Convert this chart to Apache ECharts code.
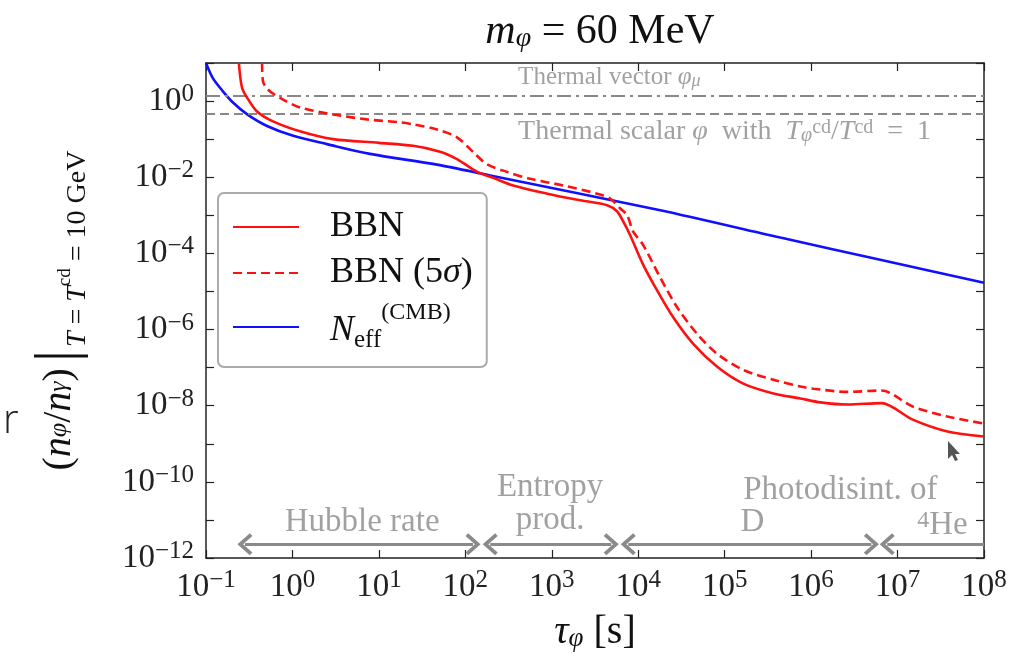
<!DOCTYPE html>
<html>
<head>
<meta charset="utf-8">
<script src="https://cdn.jsdelivr.net/npm/echarts@6/dist/echarts.min.js"></script>
<style>html,body{margin:0;padding:0;background:#fff;}#c{width:1020px;height:657px;}</style>
</head>
<body>
<div id="c"></div>
<script>
// ---- data (tau [s], n_phi/n_gamma) ----
const bbn = [[0.24,10],[0.261,2.24],[0.299,1.23],[0.389,0.533],[0.596,0.293],[1.22,0.161],[2.95,0.1],[10,0.08],[24.9,0.067],[51,0.047],[80,0.030],[137,0.0138],[209,0.0097],[357,0.0061],[885,0.0037],[2140,0.00248],[4370,0.00184],[5710,0.00126],[6700,0.00069],[8070,3.0e-4],[11430,5.0e-5],[16600,1.05e-5],[25400,2.1e-6],[43300,4.2e-7],[82000,1.05e-7],[164000,3.8e-8],[366000,2.1e-8],[750000,1.55e-8],[1.28e6,1.22e-8],[2.63e6,1.07e-8],[6.5e6,1.17e-8],[1.5e7,4.3e-9],[3.77e7,2.1e-9],[1e8,1.55e-9]];
const bbn5 = [[0.445,10],[0.457,3.27],[0.523,1.99],[0.718,1.21],[1.22,0.68],[2.95,0.446],[7.3,0.33],[17.6,0.276],[24.9,0.245],[47,0.18],[80,0.112],[123,0.046],[178,0.022],[305,0.0138],[562,0.0091],[1350,0.0061],[3350,0.0037],[4740,0.00275],[6200,0.00151],[7460,0.001],[8710,3.8e-4],[11430,1.65e-4],[18000,2.3e-5],[28300,3.8e-6],[48200,7.6e-7],[82000,2.3e-7],[164000,8.7e-8],[366000,4.8e-8],[750000,3.2e-8],[1.06e6,2.8e-8],[2.63e6,2.3e-8],[6.5e6,2.5e-8],[1.5e7,9.5e-9],[3.77e7,5.2e-9],[1e8,3.4e-9]];
const neff = [[0.1,10],[0.12,4.0],[0.157,1.8],[0.205,0.914],[0.3,0.446],[0.508,0.221],[1.02,0.122],[2.51,0.074],[7.9,0.041],[47,0.0214],[194,0.0111],[18000,0.00136],[440000,2.6e-4],[6.3e6,6.8e-5],[1e8,1.7e-5]];
const thermalVector = 1.4;
const thermalScalar = 0.46;
// arrows (tip positions): [from, to, arrowAtEnd]
const arrowY = 2.3e-12;
const arrows = [[0.234,148,true],[161,5870,true],[6360,6.0e6,true],[6.3e6,1e8,false]];
// annotation texts: [x, y, text, align, size]
const annotations = [
  [408, 4.08, 'Thermal vector {i|φ}{sub|μ}', 'left', 25],
  [408, 0.161, 'Thermal scalar {i|φ}  with  {i|T}{sub|φ}{sup|cd}/{i|T}{sup|cd}  =  1', 'left', 28],
  [6.4, 8.7e-12, 'Hubble rate', 'center', 33],
  [955, 7.0e-11, 'Entropy', 'center', 33],
  [955, 9.7e-12, 'prod.', 'center', 33],
  [2.18e6, 5.9e-11, 'Photodisint. of', 'center', 33],
  [2.1e5, 8.7e-12, 'D', 'center', 33],
  [3.3e7, 7.2e-12, '{sup|4}He', 'center', 33]
];
const xMin = 0.1, xMax = 1e8, yMin = 1e-12, yMax = 10;

const SERIF = '"Liberation Serif", "DejaVu Serif", serif';
const GRAY = '#8a8a8a';
function supStr(e){ return String(e).replace('-', '\u2212'); }
function expOf(v){ return Math.round(Math.log10(v)); }

const tickRich = {
  b: {fontFamily: SERIF, fontSize: 33, color: '#222', lineHeight: 38},
  s: {fontFamily: SERIF, fontSize: 25, color: '#222', verticalAlign: 'top', lineHeight: 25}
};
function annRich(sz){
  const small = Math.round(sz * 0.72);
  return {
    i: {fontFamily: SERIF, fontSize: sz, fontStyle: 'italic', color: GRAY},
    sub: {fontFamily: SERIF, fontSize: small, fontStyle: 'italic', color: GRAY, verticalAlign: 'bottom', lineHeight: small},
    sup: {fontFamily: SERIF, fontSize: small, color: GRAY, verticalAlign: 'top', lineHeight: small}
  };
}

const chevron = 'path://M10,0 L20,12 L17.5,14.5 L10,5.5 L2.5,14.5 L0,12 Z';
const headShift = Math.pow(10, 7 / 86.4); // half an arrowhead (px) expressed on the log axis
const arrowData = arrows.map(a => [
  {coord: [a[0] * headShift, arrowY], symbol: chevron},
  {coord: [a[2] ? a[1] / headShift : a[1], arrowY], symbol: a[2] ? chevron : 'none'}
]);

const chart = echarts.init(document.getElementById('c'), null, {renderer: 'canvas'});
chart.setOption({
  backgroundColor: '#fff',
  animation: false,
  title: {
    text: '{i|m}{s|φ}{n| = 60 MeV}',
    left: 595, top: 6, textAlign: 'center',
    textStyle: {rich: {
      i: {fontFamily: SERIF, fontSize: 42, fontStyle: 'italic', fontWeight: 'normal', color: '#111'},
      s: {fontFamily: SERIF, fontSize: 28, fontStyle: 'italic', fontWeight: 'normal', color: '#111', verticalAlign: 'bottom', lineHeight: 28},
      n: {fontFamily: SERIF, fontSize: 42, fontWeight: 'normal', color: '#111'}
    }}
  },
  grid: {left: 206, right: 36, top: 63, bottom: 94},
  legend: {
    orient: 'vertical', left: 218, top: 193,
    data: ['BBN', 'BBN (5σ)', 'Neff'],
    itemWidth: 66, itemHeight: 20, itemGap: 10, itemTextGap: 30,
    padding: [16, 14, 14, 14],
    borderColor: '#aaa', borderWidth: 2, borderRadius: 6,
    backgroundColor: 'rgba(255,255,255,0.9)',
    itemStyle: {opacity: 0},
    formatter: function(n){
      if (n === 'BBN') return '{g| }{t|BBN}';
      if (n === 'BBN (5σ)') return '{g| }{t|BBN (5}{ti|σ}{t|)}';
      return '{g| }{tn|N}{sub|eff}{sup|(CMB)}';
    },
    textStyle: {rich: {
      g: {width: 26, fontSize: 10},
      t: {fontFamily: SERIF, fontSize: 36, color: '#111', lineHeight: 40},
      ti: {fontFamily: SERIF, fontSize: 36, fontStyle: 'italic', color: '#111', lineHeight: 40},
      tn: {fontFamily: SERIF, fontSize: 36, fontStyle: 'italic', color: '#111', lineHeight: 52, padding: [8, 0, 0, 0]},
      sub: {fontFamily: SERIF, fontSize: 25, color: '#111', verticalAlign: 'bottom', lineHeight: 25},
      sup: {fontFamily: SERIF, fontSize: 24, color: '#111', verticalAlign: 'top', lineHeight: 24}
    }}
  },
  xAxis: [{
    type: 'log', min: xMin, max: xMax, interval: 1, logBase: 10,
    position: 'bottom',
    name: '{i|τ}{s|φ}{n| [s]}', nameLocation: 'middle', nameGap: 54,
    nameTextStyle: {rich: {
      i: {fontFamily: SERIF, fontSize: 40, fontStyle: 'italic', color: '#111'},
      s: {fontFamily: SERIF, fontSize: 27, fontStyle: 'italic', color: '#111', verticalAlign: 'bottom', lineHeight: 27},
      n: {fontFamily: SERIF, fontSize: 40, color: '#111'}
    }},
    axisLine: {lineStyle: {color: '#222', width: 1.5}},
    axisTick: {inside: true, length: 8, lineStyle: {color: '#222', width: 1.2}},
    axisLabel: {margin: 10, formatter: v => '{b|10}{s|' + supStr(expOf(v)) + '}', rich: tickRich},
    splitLine: {show: false}
  }, {
    type: 'log', min: xMin, max: xMax, interval: 1, logBase: 10,
    position: 'top',
    axisLine: {lineStyle: {color: '#222', width: 1.5}},
    axisTick: {inside: true, length: 8, lineStyle: {color: '#222', width: 1.2}},
    axisLabel: {show: false}, splitLine: {show: false}
  }],
  yAxis: [{
    type: 'log', min: yMin, max: yMax, interval: 1, logBase: 10,
    position: 'left',
    name: '{p|(}{i|n}{s|φ}{p|/}{i|n}{s|γ}{p|)}{bar||}{t|T}{tn| = }{t|T}{c|cd}{tn| = 10 GeV}',
    nameLocation: 'middle', nameGap: 114,
    nameTextStyle: {rich: {
      p: {fontFamily: SERIF, fontSize: 40, color: '#111', lineHeight: 66},
      i: {fontFamily: SERIF, fontSize: 40, fontStyle: 'italic', color: '#111', lineHeight: 66},
      s: {fontFamily: SERIF, fontSize: 26, fontStyle: 'italic', color: '#111', lineHeight: 26},
      bar: {fontFamily: SERIF, fontSize: 60, color: '#111', padding: [0, 3, 0, 6]},
      t: {fontFamily: SERIF, fontSize: 28, fontStyle: 'italic', color: '#111', verticalAlign: 'bottom', lineHeight: 28},
      tn: {fontFamily: SERIF, fontSize: 28, color: '#111', verticalAlign: 'bottom', lineHeight: 28},
      c: {fontFamily: SERIF, fontSize: 19, color: '#111', verticalAlign: 'bottom', lineHeight: 19, padding: [0, 0, 17, 0]}
    }},
    axisLine: {lineStyle: {color: '#222', width: 1.5}},
    axisTick: {inside: true, length: 8, lineStyle: {color: '#222', width: 1.2}},
    axisLabel: {margin: 12, formatter: v => { const e = expOf(v); return (e % 2 === 0) ? '{b|10}{s|' + supStr(e) + '}' : ''; }, rich: tickRich},
    splitLine: {show: false}
  }, {
    type: 'log', min: yMin, max: yMax, interval: 1, logBase: 10,
    position: 'right',
    axisLine: {lineStyle: {color: '#222', width: 1.5}},
    axisTick: {inside: true, length: 8, lineStyle: {color: '#222', width: 1.2}},
    axisLabel: {show: false}, splitLine: {show: false}
  }],
  series: [
    {
      name: 'BBN', type: 'line', data: bbn, symbol: 'none', smooth: 0.3,
      lineStyle: {color: '#ff1010', width: 2.6}, itemStyle: {color: '#ff1010'}, z: 5
    },
    {
      name: 'BBN (5σ)', type: 'line', data: bbn5, symbol: 'none', smooth: 0.3,
      lineStyle: {color: '#ff1010', width: 2.6, type: [9, 5]}, itemStyle: {color: '#ff1010'}, z: 5
    },
    {
      name: 'Neff', type: 'line', data: neff, symbol: 'none', smooth: 0.3,
      lineStyle: {color: '#1010ff', width: 2.6}, itemStyle: {color: '#1010ff'}, z: 4
    },
    {
      name: 'refs', type: 'line', data: [], symbol: 'none', silent: true,
      markLine: {
        silent: true, symbol: 'none', label: {show: false}, animation: false,
        data: [
          {yAxis: thermalVector, lineStyle: {color: '#888', width: 2.2, type: [14, 5, 3, 5]}},
          {yAxis: thermalScalar, lineStyle: {color: '#888', width: 2.2, type: [9, 5]}}
        ]
      }
    },
    {
      name: 'arrows', type: 'line', data: [], symbol: 'none', silent: true,
      markLine: {
        silent: true, symbolSize: [22, 15], label: {show: false}, animation: false,
        lineStyle: {color: '#8a8a8a', width: 3, type: 'solid'},
        data: arrowData
      }
    },
    {
      name: 'notes', type: 'scatter', symbolSize: 0, silent: true,
      data: annotations.map(a => ({value: [a[0], a[1]], label: {
        show: true, position: a[3] === 'left' ? 'right' : 'inside', distance: 0,
        formatter: a[2], color: GRAY, fontFamily: SERIF, fontSize: a[4], rich: annRich(a[4])
      }}))
    }
  ],
  graphic: [
    {type: 'text', left: 3, top: 402, style: {text: 'r', font: '300 40px "Open Sans", sans-serif', fill: '#222'}},
    {type: 'polygon', shape: {points: [[948,441],[948,459],[952,455],[955,461],[958,460],[955,454],[960,454]]}, style: {fill: '#555'}, z: 100}
  ]
});
</script>
</body>
</html>
